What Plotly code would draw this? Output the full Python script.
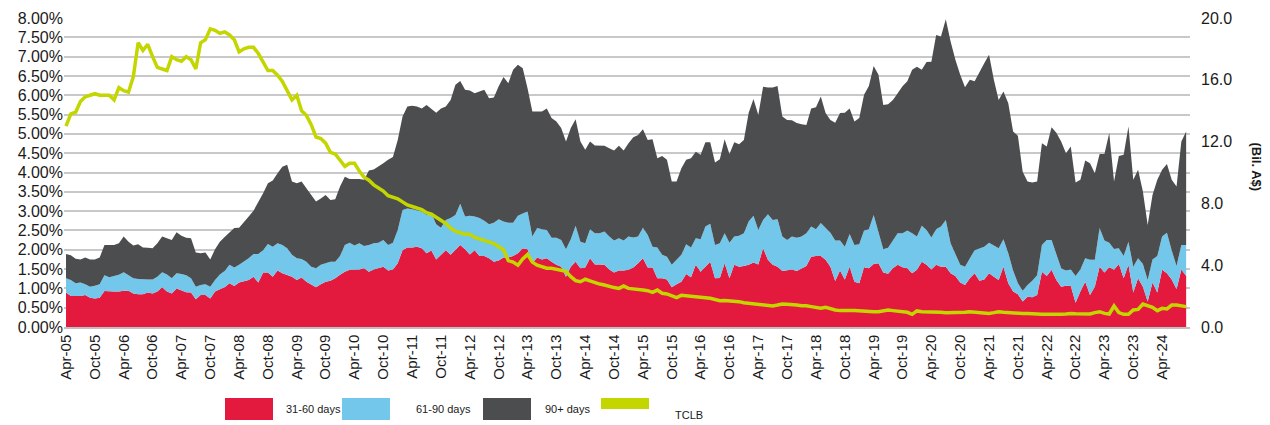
import pandas as pd
import plotly.graph_objects as go

# ---------------- data (monthly, Apr-05 .. Sep-24) ----------------
months = pd.date_range("2005-04-01", periods=234, freq="MS").strftime("%b-%y").tolist()

d31_60 = [
    0.89,0.80,0.80,0.80,0.83,0.76,0.74,0.76,0.93,0.92,
    0.92,0.92,0.94,0.94,0.87,0.85,0.85,0.89,0.87,0.92,
    1.03,0.92,0.87,1.00,0.96,0.90,0.89,0.72,0.83,0.83,
    0.74,0.92,0.98,1.03,1.13,1.06,1.15,1.19,1.22,1.30,
    1.15,1.41,1.41,1.30,1.46,1.39,1.35,1.30,1.22,1.28,
    1.17,1.09,1.03,1.11,1.17,1.20,1.26,1.35,1.43,1.48,
    1.48,1.49,1.52,1.43,1.49,1.52,1.56,1.46,1.49,1.65,
    1.99,2.06,2.06,2.08,2.04,1.91,1.98,1.75,1.87,1.99,
    1.87,1.99,2.12,2.01,1.88,1.99,1.84,1.84,1.78,1.69,
    1.72,1.80,1.80,1.84,1.91,2.04,2.01,1.65,1.80,1.75,
    1.78,1.69,1.61,1.56,1.30,1.56,1.69,1.52,1.54,1.78,
    1.62,1.62,1.61,1.49,1.41,1.46,1.46,1.48,1.54,1.65,
    1.78,1.54,1.54,1.26,1.26,1.23,1.03,1.11,1.17,1.37,
    1.29,1.61,1.43,1.56,1.69,1.26,1.27,1.65,1.26,1.61,
    1.56,1.58,1.61,1.67,1.62,2.04,1.74,1.61,1.56,1.45,
    1.48,1.49,1.45,1.51,1.58,1.82,1.84,1.84,1.74,1.56,
    1.19,1.46,1.23,1.56,1.17,1.13,1.55,1.52,1.63,1.65,
    1.41,1.38,1.52,1.61,1.55,1.52,1.39,1.48,1.69,1.61,
    1.49,1.61,1.56,1.56,1.39,1.32,1.15,1.09,1.26,1.39,
    1.20,1.23,1.39,1.30,1.22,1.56,1.13,0.92,0.85,0.66,
    0.78,0.77,0.83,1.43,1.32,1.48,1.22,1.04,1.07,1.06,
    0.63,0.92,1.17,0.83,1.04,1.56,1.41,1.55,1.48,1.63,
    1.26,1.61,0.89,1.26,1.04,0.66,1.15,0.89,1.48,1.39,
    1.23,0.98,1.49,1.32,
]

d61_90 = [
    0.37,0.42,0.33,0.35,0.28,0.28,0.33,0.35,0.41,0.37,
    0.40,0.43,0.48,0.41,0.39,0.39,0.38,0.34,0.36,0.38,
    0.39,0.44,0.39,0.39,0.41,0.44,0.37,0.32,0.26,0.28,
    0.30,0.30,0.38,0.42,0.48,0.48,0.46,0.50,0.56,0.59,
    0.74,0.58,0.74,0.78,0.71,0.73,0.69,0.57,0.56,0.48,
    0.52,0.47,0.49,0.50,0.48,0.49,0.43,0.49,0.69,0.70,
    0.63,0.68,0.58,0.69,0.68,0.66,0.69,0.66,0.69,0.86,
    1.04,1.01,0.99,0.95,0.95,0.99,0.96,0.91,0.70,0.78,
    0.95,0.91,1.07,0.85,1.00,0.87,0.98,0.91,0.88,1.01,
    1.07,0.93,0.90,0.86,0.97,0.90,0.98,0.69,0.76,0.78,
    0.73,0.62,0.70,0.69,0.71,0.71,0.93,0.69,0.63,0.75,
    0.81,0.81,0.86,0.85,0.83,0.84,0.78,0.86,0.78,0.69,
    0.79,0.84,0.54,0.80,0.61,0.59,0.58,0.63,0.70,0.77,
    0.77,0.69,0.84,1.04,0.98,0.86,0.90,0.78,0.92,0.73,
    0.80,0.85,1.12,1.21,0.89,0.73,1.18,1.16,1.23,0.89,
    0.77,0.85,0.86,0.83,0.85,0.78,0.69,0.85,0.83,0.88,
    1.05,0.78,0.85,0.85,0.95,1.01,0.95,1.01,1.27,0.82,
    0.60,0.67,0.73,0.82,0.88,0.98,1.04,0.86,0.93,0.90,
    0.83,0.92,1.04,1.21,0.78,0.55,0.46,0.47,0.52,0.60,
    0.83,0.85,0.79,0.82,0.82,0.71,0.78,0.54,0.28,0.28,
    0.31,0.43,0.51,0.69,0.93,0.77,0.65,0.48,0.39,0.43,
    0.69,0.57,0.61,0.91,0.70,1.00,0.83,0.63,0.54,0.41,
    0.58,0.60,0.67,0.52,0.59,0.56,0.60,0.95,0.86,1.05,
    0.75,0.60,0.63,0.80,
]

d90_plus = [
    0.63,0.64,0.64,0.60,0.69,0.71,0.68,0.69,0.78,0.83,
    0.80,0.82,0.92,0.86,0.85,0.90,0.83,0.82,0.81,0.87,
    0.92,0.94,0.99,1.06,0.99,0.97,1.04,0.89,0.82,0.82,
    0.71,0.79,0.85,0.88,0.84,1.02,0.96,1.04,1.08,1.12,
    1.33,1.47,1.57,1.71,1.81,2.03,2.16,1.90,1.94,2.01,
    1.90,1.86,1.73,1.72,1.77,1.60,1.62,1.80,1.77,1.65,
    1.72,1.66,1.71,1.93,1.91,1.97,1.99,2.21,2.22,2.33,
    2.42,2.64,2.68,2.68,2.67,2.85,2.72,2.89,3.09,2.94,
    3.06,3.37,3.18,3.28,3.24,3.19,3.28,3.39,3.26,3.24,
    3.44,3.74,3.61,3.96,3.91,3.76,3.19,3.24,3.02,3.05,
    3.15,3.10,3.01,2.90,2.79,2.88,2.76,2.59,2.42,2.27,
    2.27,2.26,2.22,2.29,2.33,2.39,2.33,2.42,2.59,2.63,
    2.55,2.46,2.78,2.31,2.56,2.51,2.16,2.03,2.24,2.19,
    2.31,2.24,2.19,2.18,2.11,2.14,2.17,2.43,2.30,2.44,
    2.37,2.41,2.82,3.02,2.98,3.45,3.28,3.43,3.45,3.11,
    3.11,3.01,2.97,2.91,2.80,3.06,3.16,3.28,2.97,2.92,
    3.05,3.30,3.47,3.25,3.20,3.27,3.51,3.71,3.86,4.06,
    3.74,3.72,3.63,3.62,3.80,3.86,4.23,4.40,4.04,4.35,
    4.55,5.03,4.92,5.20,5.22,5.05,4.92,4.65,4.62,4.37,
    4.58,4.75,4.87,4.28,3.84,3.83,3.88,3.60,3.82,3.08,
    2.68,2.54,2.43,2.64,2.42,2.92,3.16,3.28,3.04,3.18,
    2.42,2.32,2.53,2.50,2.24,1.92,2.24,2.84,1.75,2.39,
    2.62,2.98,2.25,2.29,1.88,1.42,1.67,1.97,1.73,1.78,
    1.83,2.06,2.68,2.94,
]

tclb = [
    13.0,13.8,13.9,14.6,14.9,15.0,15.1,15.0,15.0,15.0,
    14.7,15.5,15.3,15.2,16.2,18.4,17.9,18.3,17.5,16.8,
    16.7,16.6,17.5,17.3,17.2,17.5,17.3,16.7,18.4,18.6,
    19.3,19.2,19.0,19.1,18.9,18.6,17.8,18.0,18.1,18.1,
    17.7,17.1,16.6,16.6,16.3,15.9,15.3,14.7,15.0,14.0,
    13.7,13.1,12.3,12.2,11.9,11.3,11.2,10.8,10.4,10.6,
    10.6,10.1,9.7,9.5,9.2,9.0,8.8,8.5,8.4,8.3,
    8.1,7.9,7.8,7.7,7.6,7.4,7.3,7.1,6.9,6.7,
    6.4,6.2,6.1,6.0,6.0,5.8,5.7,5.6,5.5,5.4,
    5.2,5.0,4.3,4.2,4.0,4.4,4.7,4.2,4.0,3.9,
    3.8,3.8,3.75,3.7,3.6,3.26,3.0,2.93,3.09,2.98,
    2.87,2.78,2.72,2.61,2.55,2.50,2.65,2.50,2.48,2.44,
    2.39,2.35,2.24,2.39,2.18,2.14,2.0,1.9,2.05,2.03,
    2.0,1.96,1.96,1.9,1.86,1.79,1.70,1.72,1.70,1.64,
    1.64,1.57,1.53,1.49,1.47,1.42,1.38,1.36,1.42,1.49,
    1.47,1.42,1.42,1.38,1.38,1.32,1.27,1.21,1.27,1.17,
    1.10,1.06,1.04,1.06,1.06,1.04,0.99,0.99,0.99,0.99,
    1.04,1.10,1.06,1.04,0.99,0.95,0.82,1.04,0.99,0.99,
    0.99,0.95,0.95,0.93,0.93,0.93,0.93,0.95,0.99,0.95,
    0.93,0.88,0.88,0.93,0.99,0.95,0.93,0.88,0.88,0.88,
    0.88,0.88,0.84,0.82,0.82,0.78,0.80,0.82,0.84,0.88,
    0.86,0.84,0.84,0.84,0.93,0.99,0.88,0.84,1.36,0.93,
    0.82,0.82,1.10,1.14,1.49,1.36,1.27,1.06,1.21,1.17,
    1.42,1.42,1.38,1.32,
]

tick_labels = months[::6]
series_names = ["31-60 days", "61-90 days", "90+ days", "TCLB"]

# ---------------- style ----------------
RED = "#E3193D"
BLUE = "#72C7EA"
DARK = "#4B4D4F"
LIME = "#C4D600"
FONT = "Arial, Liberation Sans, sans-serif"

OFF = 8  # default page body margin
W, H = 1270 - OFF, 425 - OFF
ML, MT = 64 - OFF, 18 - OFF
MR = W - (1190 - OFF)
MB = H - (327 - OFF)
PW, PH = W - ML - MR, H - MT - MB


def px(x):
    return (x - OFF - ML) / PW


def py(y):
    return (H + OFF - MB - y) / PH


fig = go.Figure()
for vals, name, col in [(d31_60, series_names[0], RED),
                        (d61_90, series_names[1], BLUE),
                        (d90_plus, series_names[2], DARK)]:
    fig.add_trace(go.Scatter(
        x=months, y=vals, name=name, mode="lines", stackgroup="one",
        line=dict(width=0, color=col), fillcolor=col, showlegend=False))

fig.add_trace(go.Scatter(
    x=months, y=tclb, name=series_names[3], mode="lines", yaxis="y2",
    line=dict(color=LIME, width=3.5), showlegend=False))

fig.update_layout(
    width=W, height=H, autosize=False,
    margin=dict(l=ML, r=MR, t=MT, b=MB, pad=0),
    paper_bgcolor="white", plot_bgcolor="white",
    font=dict(family=FONT, color="#1a1a1a"),
    xaxis=dict(type="category", range=[-0.42, 233.8], automargin=False,
               tickmode="array", tickvals=tick_labels, ticktext=tick_labels,
               tickangle=-90, tickfont=dict(size=15, family=FONT, color="#1a1a1a"),
               showgrid=False, showline=True, linecolor="#c0c0c0", linewidth=1.5,
               ticks="", zeroline=False),
    yaxis=dict(range=[0, 8], dtick=0.5, tickformat=".2f", ticksuffix="%", automargin=False,
               tickfont=dict(size=16, family=FONT, color="#1a1a1a"),
               showgrid=True, gridcolor="#c8c8c8", gridwidth=1.5,
               zeroline=False, showline=False, ticks=""),
    yaxis2=dict(range=[0, 20], dtick=4, tickformat=".1f", overlaying="y", side="right",
                automargin=False, ticklabelstandoff=10,
                tickfont=dict(size=16, family=FONT, color="#1a1a1a"),
                showgrid=False, zeroline=False, showline=False, ticks=""),
)

# right axis title
fig.add_annotation(x=px(1266), y=py(167), xref="paper", yref="paper",
                   text="<b>(Bil. A$)</b>", textangle=90, showarrow=False,
                   font=dict(size=13, family=FONT, color="#1a1a1a"))

# legend drawn as large swatches
legend = [
    (225, 273, 398, 420, RED, series_names[0], 284, 409),
    (342, 390, 398, 420, BLUE, series_names[1], 414, 409),
    (483, 531, 398, 420, DARK, series_names[2], 543, 409),
    (601, 649, 398, 409, LIME, series_names[3], 673, 415),
]
for x0, x1, y0, y1, col, label, tx, ty in legend:
    fig.add_shape(type="rect", xref="paper", yref="paper",
                  x0=px(x0), x1=px(x1), y0=py(y1), y1=py(y0),
                  fillcolor=col, line=dict(width=0))
    fig.add_annotation(x=px(tx), y=py(ty), xref="paper", yref="paper",
                       text=label, showarrow=False, xanchor="left", yanchor="middle",
                       font=dict(size=11, family=FONT, color="#1a1a1a"))

fig.write_html("out.html")
